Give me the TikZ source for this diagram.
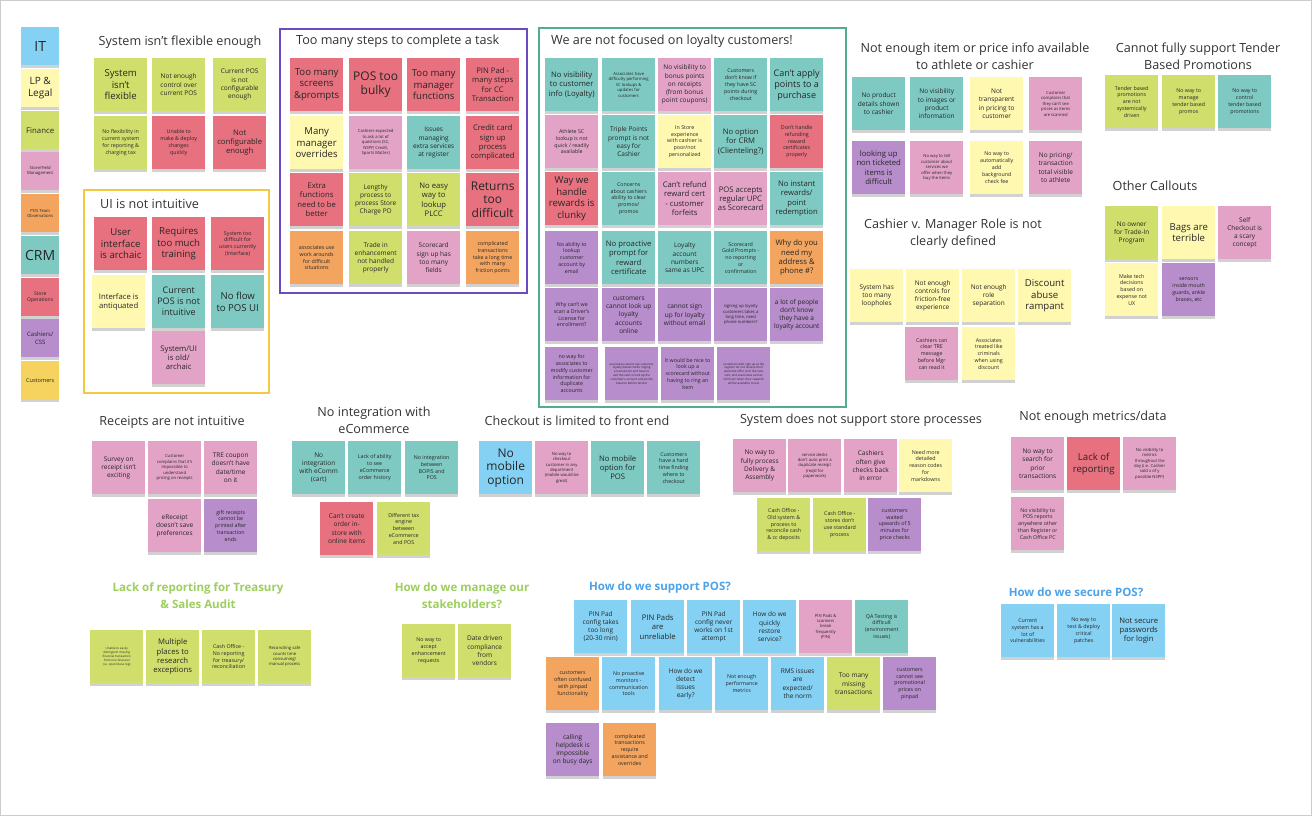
\documentclass[tikz,border=0pt]{standalone}
\usepackage{fontspec}
\setmainfont{Open Sans}
\usetikzlibrary{shadows}
\definecolor{cBlue}{HTML}{84D1F4}
\definecolor{cYel}{HTML}{FFF8B0}
\definecolor{cGrn}{HTML}{D0DF6C}
\definecolor{cPnk}{HTML}{E3A3C7}
\definecolor{cOrg}{HTML}{F3A55F}
\definecolor{cTeal}{HTML}{7ECAC3}
\definecolor{cRed}{HTML}{E8717F}
\definecolor{cPur}{HTML}{B78DCC}
\definecolor{cDYel}{HTML}{F6D35F}
\definecolor{fPur}{HTML}{6A4CC0}
\definecolor{fYel}{HTML}{F2C940}
\definecolor{fTeal}{HTML}{52AC92}
\definecolor{hGrn}{HTML}{9DCF5E}
\definecolor{hBlue}{HTML}{4CA3EA}
\newcommand\szL{\fontsize{14}{16}\selectfont}
\newcommand\szA{\fontsize{12}{13.5}\selectfont}
\newcommand\szB{\fontsize{9.6}{11.6}\selectfont}
\newcommand\szC{\fontsize{7.7}{9.4}\selectfont}
\newcommand\szD{\fontsize{6.5}{8.2}\selectfont}
\newcommand\szE{\fontsize{5.3}{6.8}\selectfont}
\newcommand\szF{\fontsize{4.2}{5.4}\selectfont}
\newcommand\szG{\fontsize{3}{3.9}\selectfont}
\newcommand\sn[6]{\node[note,fill=#4,font=#5] (#1) at (#2,#3) {#6};}
\tikzset{
  note/.style={anchor=north west, minimum width=53pt, minimum height=53pt, align=center,
    inner sep=0pt, text=black!85,
    drop shadow={shadow xshift=0pt, shadow yshift=-2.5pt, opacity=0.18, fill=black}},
  leg/.style={note, minimum width=38pt, minimum height=38pt},
  head/.style={font=\fontsize{12.6}{17}\selectfont, text=black!80, align=center, inner sep=0pt},
  bhead/.style={font=\bfseries\fontsize{11.5}{17}\selectfont, align=center, inner sep=0pt},
  frm/.style={line width=1.6pt}
}
\begin{document}
\begin{tikzpicture}[x=1pt,y=-1pt]
\useasboundingbox (0,0) rectangle (1316,820);
\fill[white] (0,0) rectangle (1316,820);
\draw[black!20, line width=1pt] (0.5,0.5) rectangle (1311,815.5);

% legend
\node[leg,fill=cBlue,font=\szL] (L1) at (21,27) {IT};
\node[leg,fill=cYel,font=\fontsize{10}{12}\selectfont] (L2) at (21,69) {LP \&\\Legal};
\node[leg,fill=cGrn,font=\fontsize{7.8}{9}\selectfont] (L3) at (21,111) {Finance};
\node[leg,fill=cPnk,font=\szF] (L4) at (21,152) {Store/Field\\Management};
\node[leg,fill=cOrg,font=\szF] (L5) at (21,194) {POS Team\\Observations};
\node[leg,fill=cTeal,font=\szL] (L6) at (21,236) {CRM};
\node[leg,fill=cRed,font=\fontsize{5}{6.5}\selectfont] (L7) at (21,278) {Store\\Operations};
\node[leg,fill=cPur,font=\fontsize{6}{8}\selectfont] (L8) at (21,319) {Cashiers/\\CSS};
\node[leg,fill=cDYel,font=\fontsize{5.6}{7}\selectfont] (L9) at (21,361) {Customers};

% System isn't flexible enough
\node[head] (H1) at (180,42) {System isn't flexible enough};
\sn{a1}{94}{58}{cGrn}{\szB}{System\\isn't\\flexible}
\sn{a2}{152}{58}{cGrn}{\szD}{Not enough\\control over\\current POS}
\sn{a3}{213}{58}{cGrn}{\szD}{Current POS\\is not\\configurable\\enough}
\sn{a4}{94}{116}{cGrn}{\szE}{No flexibility in\\current system\\for reporting \&\\charging tax}
\sn{a5}{152}{116}{cRed}{\szE}{Unable to\\make \& deploy\\changes\\quickly}
\sn{a6}{213}{116}{cRed}{\szC}{Not\\configurable\\enough}

% UI is not intuitive
\draw[frm, fYel] (84,190) rectangle (269,393);
\node[head, anchor=west] (H2) at (100,204) {UI is not intuitive};
\sn{b1}{94}{217}{cRed}{\szB}{User\\interface\\is archaic}
\sn{b2}{152}{217}{cRed}{\szB}{Requires\\too much\\training}
\sn{b3}{211}{217}{cRed}{\szE}{System too\\difficult for\\users currently\\(Interface)}
\sn{b4}{92}{275}{cYel}{\szC}{Interface is\\antiquated}
\sn{b5}{152}{275}{cTeal}{\fontsize{9}{11}\selectfont}{Current\\POS is not\\intuitive}
\sn{b6}{211}{275}{cTeal}{\szB}{No flow\\to POS UI}
\sn{b7}{152}{331}{cPnk}{\szC}{System/UI\\is old/\\archaic}

% Too many steps
\draw[frm, fPur] (280,29) rectangle (527,293);
\node[head, anchor=west] (H3) at (296,41) {Too many steps to complete a task};
\sn{c1}{290}{58}{cRed}{\szB}{Too many\\screens\\\&prompts}
\sn{c2}{349}{58}{cRed}{\szA}{POS too\\bulky}
\sn{c3}{407}{58}{cRed}{\szB}{Too many\\manager\\functions}
\sn{c4}{466}{58}{cRed}{\szC}{PIN Pad -\\many steps\\for CC\\Transaction}
\sn{c5}{290}{116}{cYel}{\szB}{Many\\manager\\overrides}
\sn{c6}{349}{116}{cPnk}{\szF}{Cashiers expected\\to ask a lot of\\questions (SC,\\NSPP, Credit,\\Sports Matter)}
\sn{c7}{407}{116}{cTeal}{\szD}{Issues\\managing\\extra services\\at register}
\sn{c8}{466}{116}{cRed}{\szC}{Credit card\\sign up\\process\\complicated}
\sn{c9}{290}{173}{cRed}{\szC}{Extra\\functions\\need to be\\better}
\sn{c10}{349}{173}{cGrn}{\szD}{Lengthy\\process to\\process Store\\Charge PO}
\sn{c11}{407}{173}{cGrn}{\szC}{No easy\\way to\\lookup\\PLCC}
\sn{c12}{466}{173}{cRed}{\szA}{Returns\\too\\difficult}
\sn{c13}{290}{231}{cOrg}{\szE}{associates use\\work arounds\\for difficult\\situations}
\sn{c14}{349}{231}{cGrn}{\szD}{Trade in\\enhancement\\not handled\\properly}
\sn{c15}{407}{231}{cPnk}{\szD}{Scorecard\\sign up has\\too many\\fields}
\sn{c16}{466}{231}{cOrg}{\szE}{complicated\\transactions\\take a long time\\with many\\friction points}

% Loyalty
\draw[frm, fTeal] (539,28) rectangle (846,407);
\node[head, anchor=west] (H4) at (551,41) {We are not focused on loyalty customers!};
\sn{d1}{545}{58}{cTeal}{\szC}{No visibility\\to customer\\info (Loyalty)}
\sn{d2}{602}{58}{cTeal}{\szF}{Associates have\\difficulty performing\\SC lookups \&\\updates for\\customers}
\sn{d3}{658}{58}{cPnk}{\szD}{No visibility to\\bonus points\\on receipts\\(from bonus\\point coupons)}
\sn{d4}{714}{58}{cTeal}{\szE}{Customers\\don't know if\\they have SC\\points during\\checkout}
\sn{d5}{770}{58}{cTeal}{\fontsize{9}{11}\selectfont}{Can't apply\\points to a\\purchase}
\sn{d6}{545}{115}{cPnk}{\szE}{Athlete SC\\lookup is not\\quick / readily\\available}
\sn{d7}{602}{115}{cTeal}{\szD}{Triple Points\\prompt is not\\easy for\\Cashier}
\sn{d8}{658}{115}{cYel}{\szE}{In Store\\experience\\with cashier is\\poor/not\\personalized}
\sn{d9}{714}{115}{cTeal}{\szC}{No option\\for CRM\\(Clienteling?)}
\sn{d10}{770}{115}{cRed}{\szE}{Don't handle\\refunding\\reward\\certificates\\properly}
\sn{d11}{545}{172}{cRed}{\szB}{Way we\\handle\\rewards is\\clunky}
\sn{d12}{602}{172}{cTeal}{\szE}{Concerns\\about cashiers\\ability to clear\\promos/\\promos}
\sn{d13}{658}{172}{cPnk}{\szC}{Can't refund\\reward cert\\- customer\\forfeits}
\sn{d14}{714}{172}{cPnk}{\szC}{POS accepts\\regular UPC\\as Scorecard}
\sn{d15}{770}{172}{cTeal}{\szC}{No instant\\rewards/\\point\\redemption}
\sn{d16}{545}{231}{cPur}{\szE}{No ability to\\lookup\\customer\\account by\\email}
\sn{d17}{602}{231}{cTeal}{\szC}{No proactive\\prompt for\\reward\\certificate}
\sn{d18}{658}{231}{cTeal}{\szD}{Loyalty\\account\\numbers\\same as UPC}
\sn{d19}{714}{231}{cTeal}{\szE}{Scorecard\\Gold Prompts -\\no reporting\\or\\confirmation}
\sn{d20}{770}{231}{cOrg}{\szC}{Why do you\\need my\\address \&\\phone \#?}
\sn{d21}{545}{288}{cPur}{\szE}{Why can't we\\scan a Driver's\\License for\\enrollment?}
\sn{d22}{602}{288}{cPur}{\szD}{customers\\cannot look up\\loyalty\\accounts\\online}
\sn{d23}{658}{288}{cPur}{\szD}{cannot sign\\up for loyalty\\without email}
\sn{d24}{714}{288}{cPur}{\szF}{signing up loyalty\\customers takes a\\long time, need\\phone numbers?}
\sn{d25}{770}{288}{cPur}{\szD}{a lot of people\\don't know\\they have a\\loyalty account}
\sn{d26}{545}{347}{cPur}{\szE}{no way for\\associates to\\modify customer\\information for\\duplicate\\accounts}
\sn{d27}{605}{347}{cPur}{\szG}{associates cannot see customer\\loyalty details while ringing\\a transaction and have to\\exit the sale to look up the\\customer's account and points\\balance before tender}
\sn{d28}{661}{347}{cPur}{\szE}{It would be nice to\\look up a\\scorecard without\\having to ring an\\item}
\sn{d29}{717}{347}{cPur}{\szG}{customers who sign up at the\\register do not receive their\\welcome offer until the next\\visit, and associates cannot\\tell them when their rewards\\will be available to use}

% Item / price info
\node[head] (H5) at (975,56) {Not enough item or price info available\\to athlete or cashier};
\sn{e1}{852}{77}{cTeal}{\szD}{No product\\details shown\\to cashier}
\sn{e2}{910}{77}{cTeal}{\szD}{No visibility\\to images or\\product\\information}
\sn{e3}{970}{77}{cYel}{\szD}{Not\\transparent\\in pricing to\\customer}
\sn{e4}{1029}{77}{cPnk}{\szF}{Customer\\complains that\\they can't see\\prices as items\\are scanned}
\sn{e5}{852}{141}{cPur}{\szC}{looking up\\non ticketed\\items is\\difficult}
\sn{e6}{910}{141}{cPnk}{\szF}{No way to tell\\customer about\\services we\\offer when they\\buy the items}
\sn{e7}{970}{141}{cYel}{\szE}{No way to\\automatically\\add\\background\\check fee}
\sn{e8}{1029}{141}{cPnk}{\szD}{No pricing/\\transaction\\total visible\\to athlete}

% Tender
\node[head] (H6) at (1198,56) {Cannot fully support Tender\\Based Promotions};
\sn{f1}{1105}{75}{cGrn}{\szE}{Tender based\\promotions\\are not\\systemically\\driven}
\sn{f2}{1162}{75}{cGrn}{\szE}{No way to\\manage\\tender based\\promos}
\sn{f3}{1218}{75}{cTeal}{\szE}{No way to\\control\\tender based\\promotions}

% Other callouts
\node[head] (H7) at (1155,186) {Other Callouts};
\sn{g1}{1105}{206}{cGrn}{\szD}{No owner\\for Trade-In\\Program}
\sn{g2}{1162}{206}{cYel}{\szB}{Bags are\\terrible}
\sn{g3}{1218}{206}{cPnk}{\szD}{Self\\Checkout is\\a scary\\concept}
\sn{g4}{1105}{263}{cYel}{\szE}{Make tech\\decisions\\based on\\expense not\\UX}
\sn{g5}{1162}{263}{cPur}{\szE}{sensors\\inside mouth\\guards, ankle\\braces, etc}

% Cashier v Manager
\node[head] (H8) at (953,234) {Cashier v. Manager Role is not\\clearly defined};
\sn{h1}{850}{269}{cYel}{\szD}{System has\\too many\\loopholes}
\sn{h2}{906}{269}{cYel}{\szD}{Not enough\\controls for\\friction-free\\experience}
\sn{h3}{962}{269}{cYel}{\szD}{Not enough\\role\\separation}
\sn{h4}{1018}{269}{cYel}{\szB}{Discount\\abuse\\rampant}
\sn{h5}{905}{327}{cPnk}{\szE}{Cashiers can\\clear TRE\\message\\before Mgr\\can read it}
\sn{h6}{962}{327}{cYel}{\szE}{Associates\\treated like\\criminals\\when using\\discount}

% Receipts
\node[head] (H9) at (172,422) {Receipts are not intuitive};
\sn{i1}{92}{441}{cPnk}{\szD}{Survey on\\receipt isn't\\exciting}
\sn{i2}{148}{441}{cPnk}{\szF}{Customer\\complains that it's\\impossible to\\understand\\pricing on receipts}
\sn{i3}{204}{441}{cPnk}{\szD}{TRE coupon\\doesn't have\\date/time\\on it}
\sn{i4}{148}{499}{cPnk}{\szD}{eReceipt\\doesn't save\\preferences}
\sn{i5}{204}{499}{cPur}{\szE}{gift receipts\\cannot be\\printed after\\transaction\\ends}

% eCommerce
\node[head] (H10) at (374,420) {No integration with\\eCommerce};
\sn{j1}{292}{441}{cTeal}{\szD}{No\\integration\\with eComm\\(cart)}
\sn{j2}{348}{441}{cTeal}{\szE}{Lack of ability\\to see\\eCommerce\\order history}
\sn{j3}{405}{441}{cTeal}{\szE}{No integration\\between\\BOPIS and\\POS}
\sn{j4}{320}{502}{cRed}{\szD}{Can't create\\order in-\\store with\\online items}
\sn{j5}{377}{502}{cGrn}{\szE}{Different tax\\engine\\between\\eCommerce\\and POS}

% Checkout
\node[head] (H11) at (577,421) {Checkout is limited to front end};
\sn{k1}{479}{441}{cBlue}{\szA}{No\\mobile\\option}
\sn{k2}{535}{441}{cPnk}{\szF}{No way to\\checkout\\customer in any\\department\\(mobile would be\\great)}
\sn{k3}{591}{441}{cTeal}{\szC}{No mobile\\option for\\POS}
\sn{k4}{647}{441}{cTeal}{\szE}{Customers\\have a hard\\time finding\\where to\\checkout}

% Store processes
\node[head] (H12) at (861,420) {System does not support store processes};
\sn{l1}{733}{439}{cPnk}{\szD}{No way to\\fully process\\Delivery \&\\Assembly}
\sn{l2}{788}{439}{cPnk}{\szF}{service desks\\don't auto print a\\duplicate receipt\\(req'd for\\paperwork)}
\sn{l3}{844}{439}{cPnk}{\szD}{Cashiers\\often give\\checks back\\in error}
\sn{l4}{899}{439}{cYel}{\szE}{Need more\\detailed\\reason codes\\for\\markdowns}
\sn{l5}{757}{498}{cGrn}{\szE}{Cash Office -\\Old system \&\\process to\\reconcile cash\\\& cc deposits}
\sn{l6}{813}{498}{cGrn}{\szE}{Cash Office -\\stores don't\\use standard\\process}
\sn{l7}{868}{498}{cPur}{\szE}{customers\\waited\\upwards of 5\\minutes for\\price checks}

% Metrics
\node[head] (H13) at (1093,417) {Not enough metrics/data};
\sn{m1}{1011}{437}{cPnk}{\szD}{No way to\\search for\\prior\\transactions}
\sn{m2}{1067}{437}{cRed}{\szB}{Lack of\\reporting}
\sn{m3}{1123}{437}{cPnk}{\szF}{No visibility to\\metrics\\throughout the\\day (i.e. Cashier\\sold x of y\\possible NSPP)}
\sn{m4}{1011}{497}{cPnk}{\szE}{No visibility to\\POS reports\\anywhere other\\than Register or\\Cash Office PC}

% Secure POS
\node[bhead, text=hBlue] (H14) at (1076,592) {How do we secure POS?};
\sn{n1}{1001}{604}{cBlue}{\szE}{Current\\system has a\\lot of\\vulnerabilities}
\sn{n2}{1057}{604}{cBlue}{\szE}{No way to\\test \& deploy\\critical\\patches}
\sn{n3}{1112}{604}{cBlue}{\szC}{Not secure\\passwords\\for login}

% Treasury
\node[bhead, text=hGrn] (H15) at (198,596) {Lack of reporting for Treasury\\\& Sales Audit};
\sn{o1}{90}{630}{cGrn}{\szG}{Unable to easily\\distinguish missing\\financial transaction\\from non-financial\\(i.e. open/close reg)}
\sn{o2}{146}{630}{cGrn}{\szC}{Multiple\\places to\\research\\exceptions}
\sn{o3}{202}{630}{cGrn}{\szE}{Cash Office -\\No reporting\\for treasury/\\reconciliation}
\sn{o4}{258}{630}{cGrn}{\szF}{Reconciling safe\\counts time\\consuming/\\manual process}

% Stakeholders
\node[bhead, text=hGrn] (H16) at (462,596) {How do we manage our\\stakeholders?};
\sn{p1}{402}{624}{cGrn}{\szE}{No way to\\accept\\enhancement\\requests}
\sn{p2}{458}{624}{cGrn}{\szD}{Date driven\\compliance\\from\\vendors}

% Support POS
\node[bhead, text=hBlue] (H17) at (660,587) {How do we support POS?};
\sn{q1}{574}{600}{cBlue}{\szD}{PIN Pad\\config takes\\too long\\(20-30 min)}
\sn{q2}{631}{600}{cBlue}{\szC}{PIN Pads\\are\\unreliable}
\sn{q3}{687}{600}{cBlue}{\szD}{PIN Pad\\config never\\works on 1st\\attempt}
\sn{q4}{743}{600}{cBlue}{\szD}{How do we\\quickly\\restore\\service?}
\sn{q5}{799}{600}{cPnk}{\szF}{PIN Pads \&\\scanners\\break\\frequently\\(FIN)}
\sn{q6}{855}{600}{cTeal}{\szE}{QA Testing is\\difficult\\(environment\\issues)}
\sn{q7}{546}{657}{cOrg}{\szE}{customers\\often confused\\with pinpad\\functionality}
\sn{q8}{602}{657}{cBlue}{\szE}{No proactive\\monitors -\\communication\\tools}
\sn{q9}{659}{657}{cBlue}{\szD}{How do we\\detect\\issues\\early?}
\sn{q10}{715}{657}{cBlue}{\szE}{Not enough\\performance\\metrics}
\sn{q11}{771}{657}{cBlue}{\szD}{RMS issues\\are\\expected/\\the norm}
\sn{q12}{827}{657}{cGrn}{\szD}{Too many\\missing\\transactions}
\sn{q13}{883}{657}{cPur}{\szE}{customers\\cannot see\\promotional\\prices on\\pinpad}
\sn{q14}{546}{723}{cPur}{\szD}{calling\\helpdesk is\\impossible\\on busy days}
\sn{q15}{603}{723}{cOrg}{\szE}{complicated\\transactions\\require\\assistance and\\overrides}
\end{tikzpicture}
\end{document}
